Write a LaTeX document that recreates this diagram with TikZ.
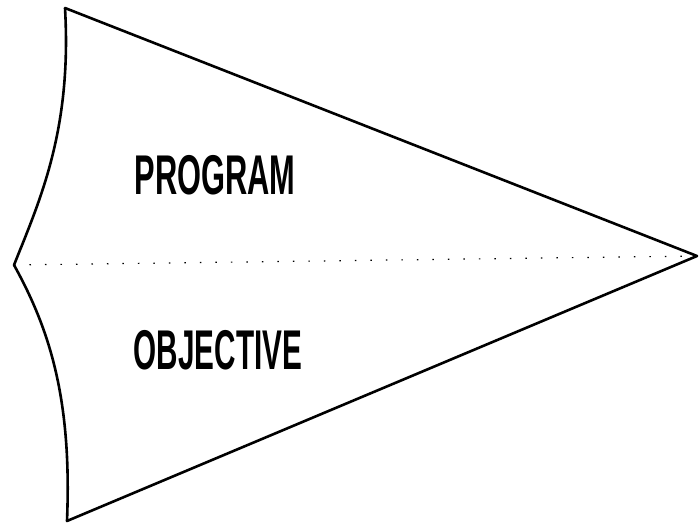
\documentclass[tikz,border=0pt]{standalone}
\usepackage{fontspec}
\setmainfont{Liberation Sans}
\begin{document}
\begin{tikzpicture}[x=1pt,y=-1pt,
  outline/.style={line width=2.6pt,line join=round,line cap=round},
  midline/.style={line width=1.2pt,dash pattern=on 1.5pt off 14pt},
  label/.style={font=\fontsize{56}{60}\selectfont\bfseries,inner sep=0pt}]
\useasboundingbox (0,0) rectangle (700,526);
\coordinate (tl) at (65,8);
\coordinate (bl) at (67,521);
\coordinate (cusp) at (14,265);
\coordinate (tip) at (697,256);
\draw[outline] (tl) -- (tip) -- (bl)
  .. controls (72,400) and (50,330) .. (cusp)
  .. controls (40,200) and (72,130) .. (tl);
\draw[midline] (cusp) -- (tip);
\node[label] (prog) at (215,175) {\scalebox{0.55}[1]{PROGRAM}};
\node[label] (obj) at (218,350) {\scalebox{0.53}[1]{OBJECTIVE}};
\end{tikzpicture}
\end{document}
